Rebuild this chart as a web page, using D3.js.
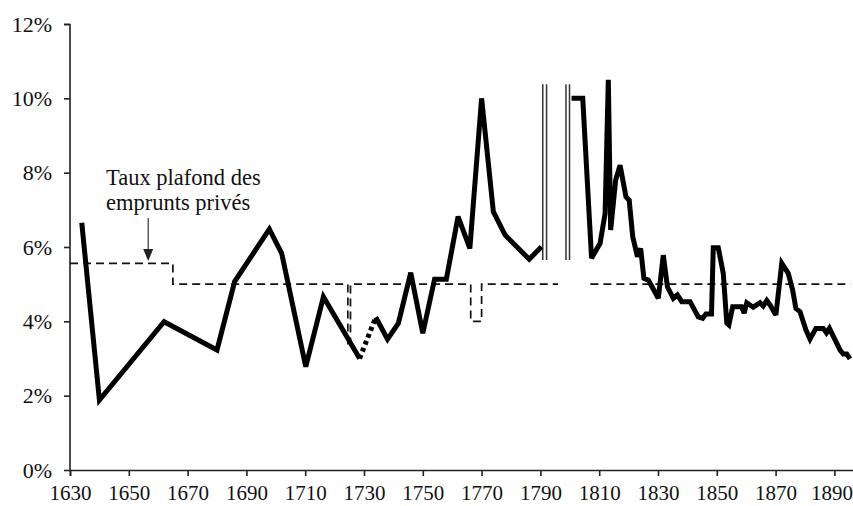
<!DOCTYPE html>
<html><head><meta charset="utf-8">
<script src="https://cdn.jsdelivr.net/npm/d3@7"></script>
<style>
html,body{margin:0;padding:0;background:#fff;}
svg{display:block;}
text{font-family:"Liberation Serif","Times New Roman",serif;fill:#111;}
</style></head>
<body>
<svg id="c" width="853" height="506"></svg>
<script>
// ---- data ----
const xTicks = [1630,1650,1670,1690,1710,1730,1750,1770,1790,1810,1830,1850,1870,1890];
const yTicks = [0,2,4,6,8,10,12];
const yTickLabels = ["0%","2%","4%","6%","8%","10%","12%"];

// Series: observed rate (%), in pieces
const years1 = [1634,1640,1662,1680,1686,1697.8,1702,1710.2,1716.2,1728.5];
const rates1 = [6.65,1.88,3.99,3.23,5.07,6.48,5.83,2.78,4.66,3.0];
const yearsDotted = [1728.5,1734];
const ratesDotted = [3.0,4.11];
const years2 = [1734,1738,1741.7,1745.9,1750,1754,1758,1762,1766,1770,1774,1778,1786.2,1790.4];
const rates2 = [4.11,3.52,3.95,5.31,3.68,5.13,5.13,6.82,5.96,10.0,6.95,6.32,5.67,6.01];
const years3 = [1800.6,1804.4,1807.4,1810.3,1812,1813.1,1813.9,1815.6,1817.1,1819.1,1820.2,1821.4,1823,1824.1,1825.2,1826.7,1830.1,1831.8,1833.2,1835.2,1836.6,1838.1,1840.9,1843.7,1845.2,1846.3,1848.2,1848.8,1850.5,1852.2,1853.4,1854.1,1855.4,1858.4,1859.3,1860.2,1862.4,1864.7,1865.8,1867,1868.1,1870.1,1872.1,1874.3,1875.8,1876.9,1878.3,1880.3,1881.7,1883.7,1886.2,1887.3,1888.3,1891.9,1893,1894.2,1895.3];
const rates3 = [10.0,10.0,5.70,6.10,6.9,10.5,6.46,7.8,8.2,7.35,7.26,6.28,5.74,5.96,5.16,5.11,4.62,5.78,4.93,4.62,4.71,4.53,4.53,4.12,4.08,4.2,4.2,5.98,5.98,5.29,3.95,3.9,4.39,4.39,4.22,4.5,4.38,4.5,4.41,4.56,4.44,4.17,5.56,5.29,4.84,4.35,4.26,3.77,3.52,3.81,3.81,3.69,3.81,3.23,3.12,3.12,2.99];

// Legal ceiling ("Taux plafond des emprunts privés"), step series
const ceilYears1 = [1630,1665,1724.5,1725.4,1766.3,1770,1796];
const ceilRates1 = [5.56,5.0,3.33,5.0,4.0,5.0,5.0];
const ceilYears2 = [1807,1895.5];
const ceilRates2 = [5.0,5.0];

// Break marks (double bars) for the revolutionary period
const breakYears = [1790.8,1792.1,1798.7,1799.9];
const breakRange = [5.65,10.38];

const annotationLines = ["Taux plafond des","emprunts privés"];
const annotationYear = 1656.6, annotationTop = 6.78, annotationTip = 5.62;

// ---- drawing ----
const svg = d3.select("#c");
const x = d3.scaleLinear().domain([1630,1900]).range([70,863.8]);
const y = d3.scaleLinear().domain([0,12]).range([470,24]);

const zip = (a,b)=>a.map((v,i)=>[v,b[i]]);
const line = d3.line().x(d=>x(d[0])).y(d=>y(d[1]));
const stepLine = d3.line().x(d=>x(d[0])).y(d=>y(d[1])).curve(d3.curveStepAfter);

// axes
const yAxis = d3.axisLeft(y).tickValues(yTicks).tickFormat((d,i)=>yTickLabels[i]).tickSize(6).tickPadding(12);
const gy = svg.append("g").attr("transform","translate(70,0)").call(yAxis);
const xAxis = d3.axisBottom(x).tickValues(xTicks).tickFormat(d3.format("d")).tickSize(6).tickPadding(9);
const gx = svg.append("g").attr("transform","translate(0,470)").call(xAxis);
[gx,gy].forEach(g=>{
  g.attr("font-family","Liberation Serif");
  g.select(".domain").attr("stroke","#222").attr("stroke-width",1.6);
  g.selectAll(".tick line").attr("stroke","#222").attr("stroke-width",1.6);
  g.selectAll(".tick text").style("font-family","'Liberation Serif',serif").style("font-size","22px").attr("fill","#111");
});
gx.selectAll(".tick text").style("font-size","21px");
gy.select(".domain").attr("d","M-6,24.5H0V470");
gx.selectAll(".tick text").filter(d=>d===xTicks[xTicks.length-1]).attr("dx",-3);

// ceiling (dashed)
[zip(ceilYears1,ceilRates1), zip(ceilYears2,ceilRates2)].forEach(seg=>{
  svg.append("path").attr("d",stepLine(seg)).attr("fill","none")
    .attr("stroke","#111").attr("stroke-width",1.7).attr("stroke-dasharray","8,5");
});

// break marks
svg.selectAll("line.brk").data(breakYears).join("line").attr("class","brk")
  .attr("x1",d=>x(d)).attr("x2",d=>x(d))
  .attr("y1",y(breakRange[1])).attr("y2",y(breakRange[0]))
  .attr("stroke","#333").attr("stroke-width",1.5);

// main series
[zip(years1,rates1), zip(years2,rates2), zip(years3,rates3)].forEach(seg=>{
  svg.append("path").attr("d",line(seg)).attr("fill","none")
    .attr("stroke","#000").attr("stroke-width",5).attr("stroke-linejoin","miter").attr("stroke-miterlimit",3);
});
svg.append("path").attr("d",line(zip(yearsDotted,ratesDotted))).attr("fill","none")
  .attr("stroke","#000").attr("stroke-width",5).attr("stroke-dasharray","4,3.5");

// annotation
const ann = svg.append("text").attr("x",106).attr("y",185).style("font-family","'Liberation Serif',serif").style("font-size","22.5px");
annotationLines.forEach((t,i)=>ann.append("tspan").attr("x",106).attr("dy",i?25:0).text(t));
const ax = x(annotationYear);
const tipY = y(annotationTip);
svg.append("line").attr("x1",ax).attr("x2",ax).attr("y1",y(annotationTop)).attr("y2",tipY-10)
  .attr("stroke","#333").attr("stroke-width",1.2);
svg.append("path").attr("d",`M${ax-5},${tipY-12}L${ax+5},${tipY-12}L${ax},${tipY}Z`).attr("fill","#222");
</script>
</body></html>
